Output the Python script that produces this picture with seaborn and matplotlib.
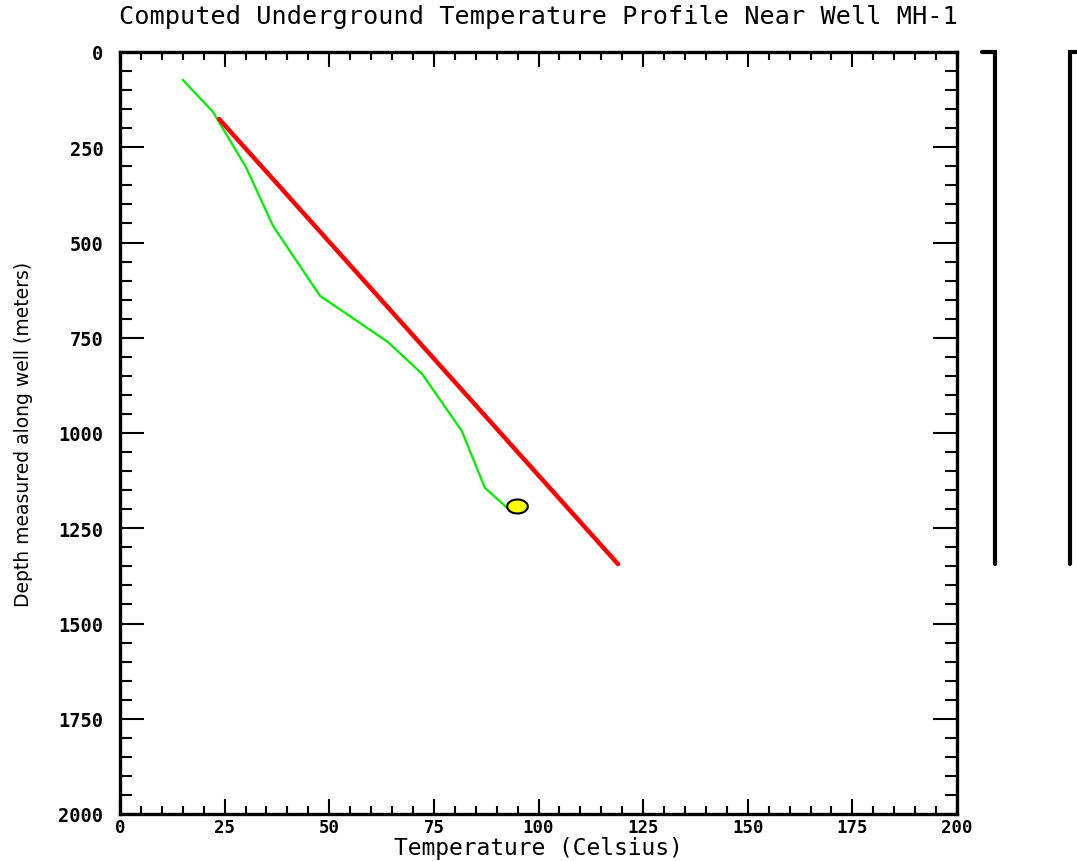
import numpy as np
import pandas as pd
import matplotlib
matplotlib.use("Agg")
import matplotlib.pyplot as plt
import matplotlib.transforms as mtransforms
from matplotlib.path import Path
import seaborn as sns

# ---- data ----
measured_temp = [15.0, 22.2, 30.1, 36.6, 47.8, 64.0, 72.2, 81.7, 87.2, 93.4]
measured_depth = [73, 157, 302, 457, 640, 761, 845, 995, 1144, 1205]
computed_temp = [23.7, 119.0]
computed_depth = [176, 1344]
point_temp = [94.9]
point_depth = [1192]
bar_depth = [0, 1344]

x_ticks = [0, 25, 50, 75, 100, 125, 150, 175, 200]
y_ticks = [0, 250, 500, 750, 1000, 1250, 1500, 1750, 2000]

title = "Computed Underground Temperature Profile Near Well MH-1"
xlabel = "Temperature (Celsius)"
ylabel = "Depth measured along well (meters)"

sns.set_style("white")
plt.rcParams['font.family'] = ['DejaVu Sans Mono', 'DejaVu Sans']
plt.rcParams['text.color'] = 'black'
plt.rcParams['axes.labelcolor'] = 'black'
plt.rcParams['xtick.color'] = 'black'
plt.rcParams['ytick.color'] = 'black'

fig = plt.figure(figsize=(10.77, 8.62), dpi=100)
ax = fig.add_axes([120/1077, 1 - 815/862, (957-120)/1077, (815-53)/862])

df_meas = pd.DataFrame({"T": measured_temp, "D": measured_depth})
df_comp = pd.DataFrame({"T": computed_temp, "D": computed_depth})
df_pt = pd.DataFrame({"T": point_temp, "D": point_depth})

sns.lineplot(data=df_meas, x="T", y="D", sort=False, color="#00ee00", lw=1.6, ax=ax, estimator=None)
sns.lineplot(data=df_comp, x="T", y="D", sort=False, color="#ff0000", lw=3.2, ax=ax, estimator=None)

theta = np.linspace(0, 2*np.pi, 60)
ell = Path(np.column_stack([np.cos(theta), 0.68*np.sin(theta)]))
sns.scatterplot(data=df_pt, x="T", y="D", marker=ell, s=220, color="#ffff00",
                edgecolor="black", linewidth=1.5, ax=ax, zorder=5)

ax.set_xlim(0, 200)
ax.set_ylim(2000, 0)
ax.set_xticks(x_ticks)
ax.set_yticks(y_ticks)
ax.set_xticks(np.arange(0, 201, 5), minor=True)
ax.set_yticks(np.arange(0, 2001, 50), minor=True)

ax.tick_params(axis="x", which="major", direction="in", length=11, width=1.5,
               top=True, bottom=True, labelsize=12.5, pad=3)
ax.tick_params(axis="x", which="minor", direction="in", length=5.5, width=1.5,
               top=True, bottom=True)
ax.tick_params(axis="y", which="major", direction="in", length=17, width=1.5,
               left=True, right=True, labelsize=13.5, pad=12)
ax.tick_params(axis="y", which="minor", direction="in", length=8.5, width=1.5,
               left=True, right=True)
for lab in ax.get_xticklabels() + ax.get_yticklabels():
    lab.set_fontweight("bold")

for s in ax.spines.values():
    s.set_linewidth(2.4)
    s.set_color("black")

ax.set_xlabel(xlabel, fontsize=16.5, labelpad=0)
ax.set_ylabel(ylabel, fontsize=13.5, family="DejaVu Sans", labelpad=18)
fig.text(0.5, 1 - 17/862, title, ha="center", va="center", fontsize=18.2)

# brackets on the right
trans = mtransforms.blended_transform_factory(fig.transFigure, ax.transData)
x1, x1c = 995/1077, 982/1077
x2, x2c = 1070/1077, 1085/1077
ax.plot([x1c, x1, x1], [bar_depth[0], bar_depth[0], bar_depth[1]], transform=trans,
        color="black", lw=3, clip_on=False, solid_joinstyle="miter")
ax.plot([x2c, x2, x2], [bar_depth[0], bar_depth[0], bar_depth[1]], transform=trans,
        color="black", lw=3, clip_on=False, solid_joinstyle="miter")

fig.savefig("out.png", dpi=100)
